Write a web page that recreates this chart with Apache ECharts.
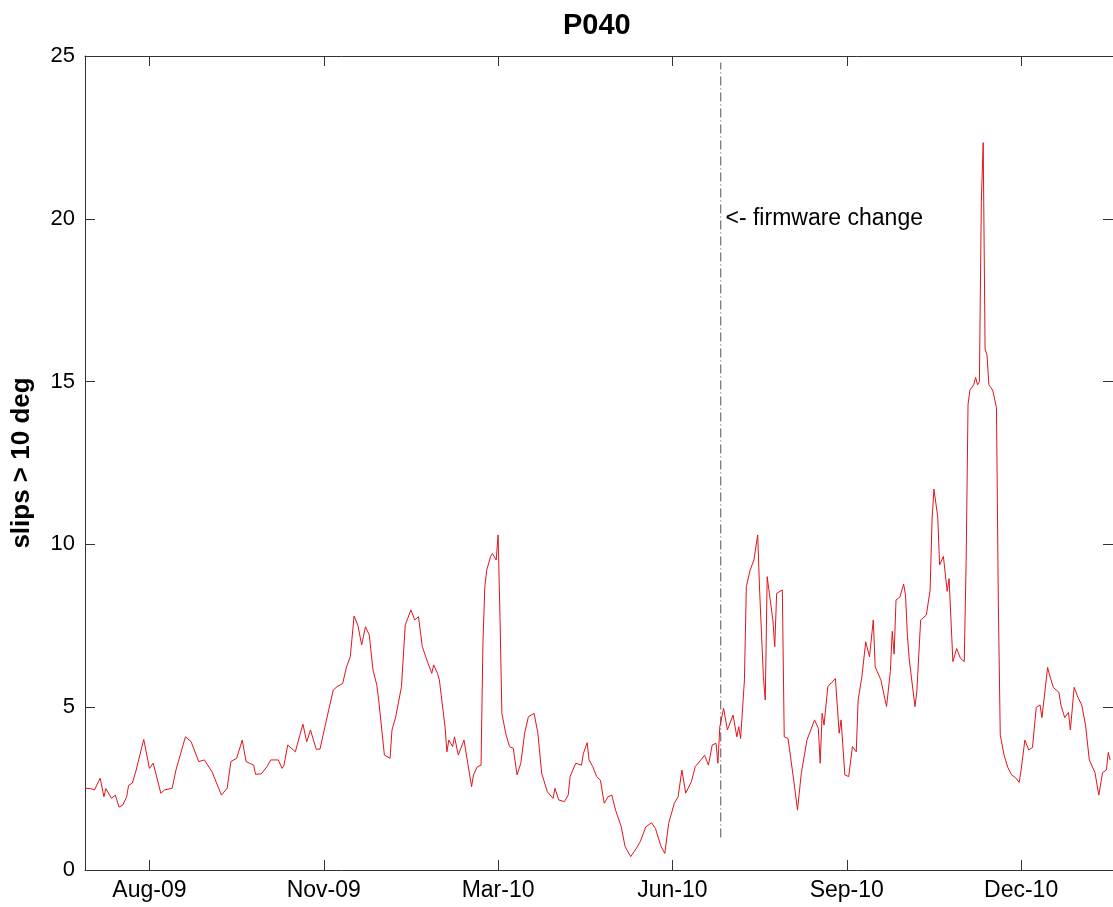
<!DOCTYPE html>
<html>
<head>
<meta charset="utf-8">
<script src="https://cdn.jsdelivr.net/npm/echarts@6/dist/echarts.min.js"></script>
<style>
html,body{margin:0;padding:0;background:#fff;}
#chart{width:1113px;height:907px;}
</style>
</head>
<body>
<div id="chart"></div>
<script>
// Days since 26-Jul-2009 (daily slip counts)
const dayIndex = [0,3,5,8,10,11,14,16,18,20,22,23,25,27,31,34,36,40,42,46,48,53,56,60,63,67,72,75,77,80,83,85,89,90,93,96,98,102,104,105,107,111,115,117,119,122,124,127,131,133,136,138,140,142,144,146,148,150,152,154,155,158,161,162,164,167,169,172,174,176,178,181,183,184,186,187,190,191,192,194,195,197,200,202,204,205,207,209,210,211,212,214,215,217,218,219,220,222,224,226,228,230,232,234,237,239,241,244,247,248,250,253,255,256,259,262,263,265,266,268,270,272,274,276,278,280,283,285,288,291,293,296,299,301,304,306,308,311,313,315,317,320,322,325,327,329,331,333,334,335,337,339,342,344,345,346,348,349,351,353,355,356,358,359,360,361,363,364,365,368,369,371,374,376,378,381,385,387,388,389,390,392,396,398,399,401,403,405,407,408,410,412,414,416,417,420,423,425,426,427,428,430,432,433,434,435,438,439,441,444,446,447,448,450,451,453,455,456,457,458,460,462,464,465,466,467,469,470,471,472,473,474,475,476,477,479,481,482,483,485,487,489,491,493,494,496,498,500,502,504,505,508,509,511,514,515,517,519,520,522,524,526,528,530,533,535,537,539,540,541];
const slips = [2.51,2.50,2.46,2.82,2.25,2.50,2.20,2.30,1.93,2.00,2.25,2.60,2.67,3.07,4.01,3.12,3.28,2.36,2.46,2.51,3.07,4.09,3.94,3.33,3.38,3.02,2.30,2.51,3.33,3.43,3.99,3.33,3.22,2.94,2.95,3.17,3.38,3.38,3.12,3.22,3.84,3.63,4.48,3.94,4.30,3.71,3.71,4.50,5.53,5.63,5.73,6.24,6.55,7.80,7.52,6.91,7.47,7.22,6.14,5.68,5.22,3.53,3.43,4.30,4.71,5.63,7.52,7.99,7.68,7.78,6.86,6.35,6.04,6.30,6.04,5.84,4.40,3.63,3.99,3.79,4.09,3.53,3.99,3.28,2.56,2.92,3.17,3.22,6.96,8.70,9.21,9.62,9.72,9.52,10.29,7.78,4.81,4.20,3.79,3.74,2.92,3.28,4.20,4.71,4.81,4.20,2.97,2.40,2.20,2.51,2.15,2.10,2.30,2.87,3.28,3.22,3.58,3.91,3.38,3.17,2.87,2.76,2.05,2.25,2.30,1.84,1.33,0.72,0.41,0.67,0.87,1.33,1.45,1.28,0.72,0.51,1.43,2.05,2.25,3.07,2.36,2.71,3.17,3.38,3.53,3.22,3.84,3.89,3.28,4.40,4.97,4.30,4.76,4.09,4.40,4.04,5.84,8.70,9.21,9.52,10.29,8.60,5.94,5.22,9.01,8.96,7.68,6.86,8.50,8.60,4.09,4.04,2.76,1.84,2.97,3.99,4.61,4.35,3.28,4.81,4.45,5.63,5.88,4.20,4.61,2.92,2.87,3.79,3.63,5.22,5.94,7.01,6.55,7.68,6.24,5.84,5.02,6.10,7.33,6.63,8.29,8.38,8.78,8.45,7.20,6.45,5.02,5.50,7.68,7.83,8.60,10.75,11.70,10.85,9.37,9.63,8.56,8.95,7.68,6.40,6.80,6.50,6.40,9.50,14.30,14.74,14.90,15.13,14.90,15.00,20.50,22.34,16.00,15.82,14.90,14.74,14.20,8.14,4.15,3.53,3.15,2.92,2.84,2.69,3.07,3.99,3.69,3.76,4.99,5.07,4.68,6.22,5.99,5.61,5.45,5.07,4.68,4.84,4.30,5.61,5.30,5.07,4.45,3.38,2.99,2.30,2.99,3.07,3.61,3.38];

// Axis ticks (MATLAB datetick, ~92 days apart)
const tickDays = [34, 126, 218, 310, 402, 494];
const tickLabels = ['Aug-09', 'Nov-09', 'Mar-10', 'Jun-10', 'Sep-10', 'Dec-10'];
const xRange = [0, 542.5];
const yTicks = [0, 5, 10, 15, 20, 25];

// Firmware change marker
const firmwareDay = 335.5;
const firmwareSpan = [1.0, 24.8];
const firmwareText = '<- firmware change';
const firmwareTextAt = [338, 20];

const titleText = 'P040';
const yName = 'slips > 10 deg';

const FONT = '"Liberation Sans", Arial, Helvetica, sans-serif';
const AX = '#333';

const chart = echarts.init(document.getElementById('chart'), null, {renderer: 'canvas'});

const xAxisBase = {
  type: 'value', min: xRange[0], max: xRange[1],
  axisLine: {show: true, onZero: false, lineStyle: {color: AX, width: 1}},
  splitLine: {show: false},
  axisTick: {show: true, inside: true, length: 10, customValues: tickDays, lineStyle: {color: AX}},
};
const yAxisBase = {
  type: 'value', min: yTicks[0], max: yTicks[yTicks.length - 1], interval: 5,
  axisLine: {show: true, onZero: false, lineStyle: {color: AX, width: 1}},
  splitLine: {show: false},
  axisTick: {show: true, inside: true, length: 10, lineStyle: {color: AX}},
};

chart.setOption({
  animation: false,
  backgroundColor: '#fff',
  title: {
    text: titleText, left: 558, top: 6,
    textStyle: {fontFamily: FONT, fontWeight: 'bold', fontSize: 29, color: '#000'}
  },
  grid: {left: 85, top: 56, width: 1030, height: 814, containLabel: false},
  xAxis: [
    Object.assign({}, xAxisBase, {
      position: 'bottom',
      axisLabel: {
        show: true, customValues: tickDays, margin: 9,
        fontFamily: FONT, fontSize: 23, color: '#000',
        formatter: v => { const i = tickDays.indexOf(Math.round(v)); return i >= 0 ? tickLabels[i] : ''; }
      }
    }),
    Object.assign({}, xAxisBase, {position: 'top', axisLabel: {show: false}})
  ],
  yAxis: [
    Object.assign({}, yAxisBase, {
      position: 'left',
      name: yName, nameLocation: 'middle', nameGap: 50, nameRotate: 90,
      nameTextStyle: {fontFamily: FONT, fontWeight: 'bold', fontSize: 26, color: '#000'},
      axisLabel: {show: true, margin: 10, fontFamily: FONT, fontSize: 22, color: '#000'}
    }),
    Object.assign({}, yAxisBase, {position: 'right', axisLabel: {show: false}})
  ],
  series: [
    {
      type: 'line', name: 'slips', xAxisIndex: 0, yAxisIndex: 0,
      data: dayIndex.map((d, i) => [d, slips[i]]),
      showSymbol: false, symbol: 'none',
      lineStyle: {color: '#e2141c', width: 1},
      z: 3
    },
    {
      type: 'line', name: 'firmware', xAxisIndex: 0, yAxisIndex: 0,
      data: firmwareSpan.map(v => [firmwareDay, v]),
      showSymbol: false, symbol: 'none',
      lineStyle: {color: '#555', width: 1, type: [9, 3, 1, 3]},
      markPoint: {
        symbol: 'circle', symbolSize: 0,
        data: [{coord: firmwareTextAt, value: firmwareText}],
        label: {show: true, position: 'right', distance: 0, formatter: firmwareText,
          fontFamily: FONT, fontSize: 23, color: '#000'}
      },
      z: 2
    }
  ]
});
</script>
</body>
</html>
